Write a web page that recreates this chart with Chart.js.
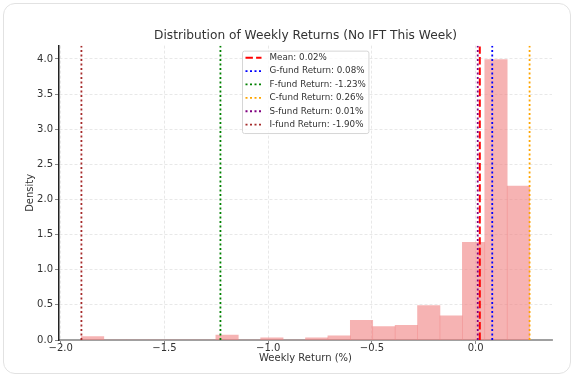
<!DOCTYPE html>
<html>
<head>
<meta charset="utf-8">
<script src="https://cdn.jsdelivr.net/npm/chart.js@4.4.1/dist/chart.umd.min.js"></script>
<style>
  html, body { margin: 0; padding: 0; background: #fff; }
  #wrap { position: relative; width: 575px; height: 378px; }
  #frame { position: absolute; left: 3px; top: 3px; width: 566px; height: 369px;
           border: 1px solid #e2e2e2; border-radius: 12px; pointer-events: none; }
</style>
</head>
<body>
<div id="wrap">
  <canvas id="mycanvas" width="575" height="378"></canvas>
  <div id="frame"></div>
</div>
<script>
// histogram bins (edges) and density per bin
var binEdges = [-1.9, -1.792, -1.684, -1.576, -1.468, -1.36, -1.252, -1.144, -1.036, -0.928,
                -0.82, -0.712, -0.604, -0.496, -0.388, -0.28, -0.172, -0.064, 0.044, 0.152, 0.26];
var density = [0.05, 0, 0, 0, 0, 0, 0.07, 0, 0.03, 0,
               0.03, 0.06, 0.28, 0.19, 0.21, 0.49, 0.345, 1.39, 3.99, 2.19];

var meanReturn = 0.02;
var fundNames = ['G-fund', 'F-fund', 'C-fund', 'S-fund', 'I-fund'];
var fundReturns = [0.08, -1.23, 0.26, 0.01, -1.90];
var fundColors = ['blue', 'green', 'orange', 'purple', 'brown'];

var xTicks = [-2.0, -1.5, -1.0, -0.5, 0.0];
var yTicks = [0.0, 0.5, 1.0, 1.5, 2.0, 2.5, 3.0, 3.5, 4.0];
var xMin = -2.008, xMax = 0.368, yMax = 4.19;

var textColor = '#333';
var fontFamily = 'DejaVu Sans';

function fmt(v) {
	return v.toFixed(1).replace('-', '\u2212');
}

var bars = [];
for (var i = 0; i < density.length; i++) {
	bars.push({ x: (binEdges[i] + binEdges[i + 1]) / 2, y: density[i] });
}

function vline(v, label, color, dash, width, order) {
	return {
		type: 'line',
		label: label,
		data: [{ x: v, y: 0 }, { x: v, y: yMax }],
		borderColor: color,
		borderWidth: width,
		borderDash: dash,
		borderCapStyle: 'butt',
		pointRadius: 0,
		fill: false,
		order: order
	};
}

var datasets = [{
	type: 'bar',
	label: 'hist',
	data: bars,
	backgroundColor: 'rgba(240, 128, 128, 0.6)',
	borderWidth: 0,
	barPercentage: 1,
	categoryPercentage: 1,
	order: 10
}];
datasets.push(vline(meanReturn, 'Mean: ' + meanReturn.toFixed(2) + '%', 'red', [7.4, 3.2], 2, 6));
for (var j = 0; j < fundNames.length; j++) {
	datasets.push(vline(fundReturns[j], fundNames[j] + ' Return: ' + fundReturns[j].toFixed(2) + '%',
		fundColors[j], [2, 2.5], 1.8, 5 - j));
}

// legend drawn inside the plot, upper center like matplotlib
var legendBox = {
	id: 'legendBox',
	afterDraw: function(chart) {
		var ctx = chart.ctx;
		var area = chart.chartArea;
		var items = chart.data.datasets.filter(function(d) { return d.type === 'line'; });
		ctx.save();
		ctx.font = '8.75px "' + fontFamily + '"';
		var maxW = 0;
		items.forEach(function(d) { maxW = Math.max(maxW, ctx.measureText(d.label).width); });
		var rowH = 13.4;
		var w = 27 + maxW + 3;
		var h = items.length * rowH + 2;
		var x0 = Math.round((area.left + area.right) / 2 - w / 2) + 0.5;
		var y0 = area.top + 5.5;
		ctx.fillStyle = 'rgba(255,255,255,0.8)';
		ctx.strokeStyle = '#d6d6d6';
		ctx.lineWidth = 1;
		ctx.beginPath();
		ctx.roundRect(x0, y0, w, h, 2);
		ctx.fill();
		ctx.stroke();
		items.forEach(function(d, k) {
			var cy = y0 + 6.5 + k * rowH;
			ctx.beginPath();
			ctx.setLineDash(d.borderDash);
			ctx.lineCap = 'butt';
			ctx.strokeStyle = d.borderColor;
			ctx.lineWidth = d.borderWidth;
			ctx.moveTo(x0 + 3, cy);
			ctx.lineTo(x0 + 19, cy);
			ctx.stroke();
			ctx.setLineDash([]);
			ctx.fillStyle = textColor;
			ctx.textBaseline = 'middle';
			ctx.fillText(d.label, x0 + 27, cy);
		});
		ctx.restore();
	}
};

var ctx = document.getElementById('mycanvas');
var chart = new Chart(ctx, {
	data: { datasets: datasets },
	plugins: [legendBox],
	options: {
		responsive: false,
		animation: false,
		layout: { padding: { left: 0, right: 23, top: 0, bottom: 0 } },
		plugins: {
			legend: { display: false },
			tooltip: { enabled: false },
			title: {
				display: true,
				fullSize: false,
				text: 'Distribution of Weekly Returns (No IFT This Week)',
				color: textColor,
				font: { family: fontFamily, size: 12.2, weight: 'normal' },
				padding: { top: 29, bottom: 2 }
			}
		},
		scales: {
			x: {
				type: 'linear',
				min: xMin,
				max: xMax,
				offset: false,
				afterBuildTicks: function(s) { s.ticks = xTicks.map(function(v) { return { value: v }; }); },
				afterFit: function(s) { s.height = 38; s.paddingLeft = 0; s.paddingRight = 0; },
				ticks: {
					color: textColor,
					font: { family: fontFamily, size: 10 },
					padding: -2,
					maxRotation: 0,
					callback: function(v) { return fmt(v); }
				},
				grid: {
					offset: false,
					color: '#e2e2e2',
					lineWidth: 0.8,
					tickColor: '#888',
					tickLength: 4,
					tickWidth: 1
				},
				border: { color: '#a0a0a0', width: 2, dash: [3, 2] },
				title: {
					display: true,
					text: 'Weekly Return (%)',
					color: textColor,
					font: { family: fontFamily, size: 10 },
					padding: { top: 0, bottom: 14 }
				}
			},
			y: {
				type: 'linear',
				min: 0,
				max: yMax,
				afterBuildTicks: function(s) { s.ticks = yTicks.map(function(v) { return { value: v }; }); },
				afterFit: function(s) { s.width = 59; s.paddingTop = 0; s.paddingBottom = 0; },
				ticks: {
					color: textColor,
					font: { family: fontFamily, size: 10 },
					padding: 2,
					callback: function(v) { return fmt(v); }
				},
				grid: {
					color: '#e2e2e2',
					lineWidth: 0.8,
					tickColor: '#888',
					tickLength: 4,
					tickWidth: 1
				},
				border: { color: '#222', width: 1.5, dash: [3, 2] },
				title: {
					display: true,
					text: 'Density',
					color: textColor,
					font: { family: fontFamily, size: 10 },
					padding: { top: 24, bottom: 0 }
				}
			}
		}
	}
});
</script>
</body>
</html>
